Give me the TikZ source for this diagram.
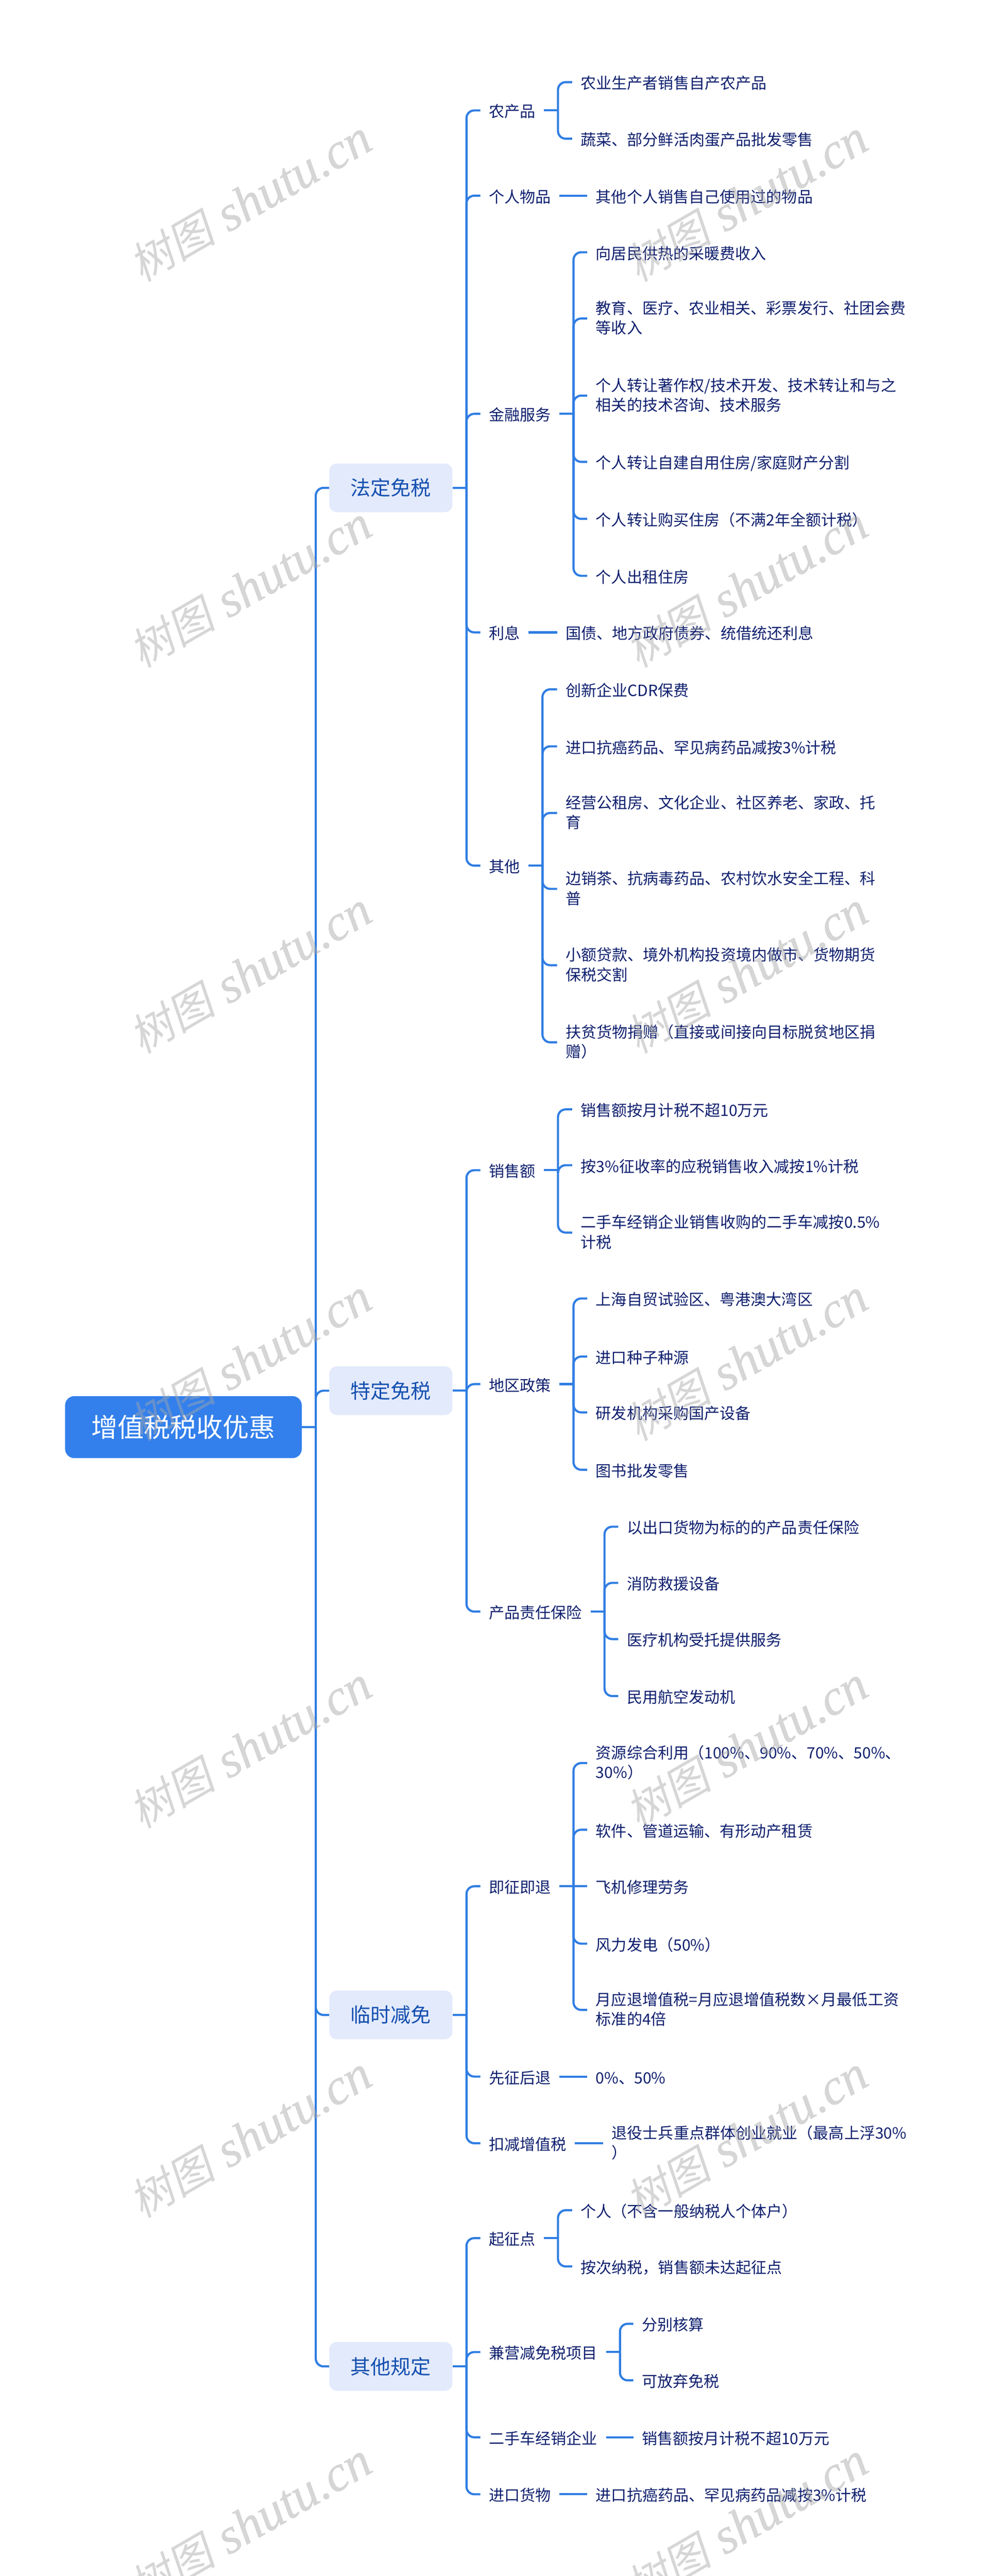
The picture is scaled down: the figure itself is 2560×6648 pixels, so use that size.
\documentclass[tikz,border=0pt]{standalone}
\usepackage{fontspec}
\setmainfont{Noto Sans CJK SC}
\newfontfamily\markcjk[FakeSlant=0.2]{Noto Sans CJK SC}
\newfontfamily\marklatin[FakeBold=0.4]{Liberation Serif Italic}
\usetikzlibrary{calc}

\definecolor{linkblue}{HTML}{2F7DE3}
\definecolor{rootblue}{HTML}{3380EC}
\definecolor{boxblue}{HTML}{E3EAFB}
\definecolor{boxtext}{HTML}{1550B0}
\definecolor{leaftext}{HTML}{0E1F6E}

\tikzset{
	link/.style={draw=linkblue, line width=5.5pt},
	rootbox/.style={fill=rootblue, text=white, rounded corners=24pt, minimum width=611pt, minimum height=160pt, font=\fontsize{68}{80}\selectfont},
	topicbox/.style={fill=boxblue, text=boxtext, rounded corners=20pt, minimum width=318pt, minimum height=126pt, font=\fontsize{52}{62}\selectfont},
	leaf/.style={anchor=west, text=leaftext, align=left, inner xsep=22pt, inner ysep=2pt, font=\fontsize{40}{51}\selectfont, execute at begin node={\rule[-6pt]{0pt}{48pt}}},
	wmark/.style={rotate=30, text=gray!70, text opacity=0.45},
}

% parent, then its children
\newcommand{\branch}[2]{%
	\coordinate (#1-t) at ($(#1.east)+(36,0)$);
	\draw[link] (#1.east) -- (#1-t);
	\foreach \kid in {#2} \draw[link, rounded corners=20pt] (#1-t) |- (\kid.west);
}

\begin{document}
\begin{tikzpicture}[x=1pt, y=-1pt]
	\path[use as bounding box, clip] (0,0) rectangle (2560,6648);
	\fill[white] (0,0) rectangle (2560,6648);
	
	% Root and topics
	\node[rootbox] (root) at (473.5,3683) {增值税税收优惠};
	\node[topicbox] (legal) at (1009,1259) {法定免税};
	\node[topicbox] (special) at (1009,3589) {特定免税};
	\node[topicbox] (temp) at (1009,5200) {临时减免};
	\node[topicbox] (other) at (1009,6107) {其他规定};
	
	% Legal exemptions
	\node[leaf] (farm) at (1240,285) {农产品};
	\node[leaf] (farmA) at (1477,212) {农业生产者销售自产农产品};
	\node[leaf] (farmB) at (1477,358) {蔬菜、部分鲜活肉蛋产品批发零售};
	\node[leaf] (goods) at (1240,505) {个人物品};
	\node[leaf] (goodsA) at (1516,505) {其他个人销售自己使用过的物品};
	\node[leaf] (fin) at (1240,1068) {金融服务};
	\node[leaf] (finA) at (1516,651) {向居民供热的采暖费收入};
	\node[leaf] (finB) at (1516,822) {教育、医疗、农业相关、彩票发行、社团会费\\等收入};
	\node[leaf] (finC) at (1516,1021) {个人转让著作权/技术开发、技术转让和与之\\相关的技术咨询、技术服务};
	\node[leaf] (finD) at (1516,1192) {个人转让自建自用住房/家庭财产分割};
	\node[leaf] (finE) at (1516,1339) {个人转让购买住房（不满2年全额计税）};
	\node[leaf] (finF) at (1516,1486) {个人出租住房};
	\node[leaf] (rate) at (1240,1632) {利息};
	\node[leaf] (rateA) at (1438,1632) {国债、地方政府债券、统借统还利息};
	\node[leaf] (misc) at (1240,2234) {其他};
	\node[leaf] (miscA) at (1438,1779) {创新企业CDR保费};
	\node[leaf] (miscB) at (1438,1926) {进口抗癌药品、罕见病药品减按3\%计税};
	\node[leaf] (miscC) at (1438,2098) {经营公租房、文化企业、社区养老、家政、托\\育};
	\node[leaf] (miscD) at (1438,2294) {边销茶、抗病毒药品、农村饮水安全工程、科\\普};
	\node[leaf] (miscE) at (1438,2491) {小额贷款、境外机构投资境内做市、货物期货\\保税交割};
	\node[leaf] (miscF) at (1438,2690) {扶贫货物捐赠（直接或间接向目标脱贫地区捐\\赠）};
	
	% Special exemptions
	\node[leaf] (sales) at (1240,3020) {销售额};
	\node[leaf] (salesA) at (1477,2863) {销售额按月计税不超10万元};
	\node[leaf] (salesB) at (1477,3007) {按3\%征收率的应税销售收入减按1\%计税};
	\node[leaf] (salesC) at (1477,3181) {二手车经销企业销售收购的二手车减按0.5\%\\计税};
	\node[leaf] (area) at (1240,3572) {地区政策};
	\node[leaf] (areaA) at (1516,3351) {上海自贸试验区、粤港澳大湾区};
	\node[leaf] (areaB) at (1516,3501) {进口种子种源};
	\node[leaf] (areaC) at (1516,3645) {研发机构采购国产设备};
	\node[leaf] (areaD) at (1516,3793) {图书批发零售};
	\node[leaf] (ins) at (1240,4159) {产品责任保险};
	\node[leaf] (insA) at (1596,3940) {以出口货物为标的的产品责任保险};
	\node[leaf] (insB) at (1596,4085) {消防救援设备};
	\node[leaf] (insC) at (1596,4230) {医疗机构受托提供服务};
	\node[leaf] (insD) at (1596,4377) {民用航空发动机};
	
	% Temporary relief
	\node[leaf] (refund) at (1240,4868) {即征即退};
	\node[leaf] (refundA) at (1516,4550) {资源综合利用（100\%、90\%、70\%、50\%、\\30\%）};
	\node[leaf] (refundB) at (1516,4722) {软件、管道运输、有形动产租赁};
	\node[leaf] (refundC) at (1516,4868) {飞机修理劳务};
	\node[leaf] (refundD) at (1516,5016) {风力发电（50\%）};
	\node[leaf] (refundE) at (1516,5187) {月应退增值税=月应退增值税数×月最低工资\\标准的4倍};
	\node[leaf] (first) at (1240,5359) {先征后退};
	\node[leaf] (firstA) at (1516,5359) {0\%、50\%};
	\node[leaf] (deduct) at (1240,5531) {扣减增值税};
	\node[leaf] (deductA) at (1557,5531) {退役士兵重点群体创业就业（最高上浮30\%\\）};
	
	% Other rules
	\node[leaf] (start) at (1240,5776) {起征点};
	\node[leaf] (startA) at (1477,5704) {个人（不含一般纳税人个体户）};
	\node[leaf] (startB) at (1477,5849) {按次纳税，销售额未达起征点};
	\node[leaf] (mixed) at (1240,6070) {兼营减免税项目};
	\node[leaf] (mixedA) at (1635,5997) {分别核算};
	\node[leaf] (mixedB) at (1635,6143) {可放弃免税};
	\node[leaf] (used) at (1240,6290) {二手车经销企业};
	\node[leaf] (usedA) at (1635,6290) {销售额按月计税不超10万元};
	\node[leaf] (imp) at (1240,6437) {进口货物};
	\node[leaf] (impA) at (1516,6437) {进口抗癌药品、罕见病药品减按3\%计税};
	
	% Connectors
	\branch{root}{legal,special,temp,other}
	\branch{legal}{farm,goods,fin,rate,misc}
	\branch{special}{sales,area,ins}
	\branch{temp}{refund,first,deduct}
	\branch{other}{start,mixed,used,imp}
	\branch{farm}{farmA,farmB}
	\branch{fin}{finA,finB,finC,finD,finE,finF}
	\branch{misc}{miscA,miscB,miscC,miscD,miscE,miscF}
	\branch{sales}{salesA,salesB,salesC}
	\branch{area}{areaA,areaB,areaC,areaD}
	\branch{ins}{insA,insB,insC,insD}
	\branch{refund}{refundA,refundB,refundD,refundE}
	\branch{start}{startA,startB}
	\branch{mixed}{mixedA,mixedB}
	
	% Straight ones
	\draw[link] (goods) -- (goodsA);
	\draw[link] (rate) -- (rateA);
	\draw[link] (refund) -- (refundC);
	\draw[link] (first) -- (firstA);
	\draw[link] (deduct) -- (deductA);
	\draw[link] (used) -- (usedA);
	\draw[link] (imp) -- (impA);
	
	% Watermarks
	\foreach \wx in {646,1927}
		\foreach \wy in {519,1515,2511,3510,4510,5515,6513}
			\node[wmark] (mark-\wx-\wy) at (\wx,\wy) {{\fontsize{112}{130}\selectfont\markcjk 树图}\hspace{34pt}{\fontsize{130}{130}\selectfont\marklatin shutu.cn}};
\end{tikzpicture}
\end{document}
